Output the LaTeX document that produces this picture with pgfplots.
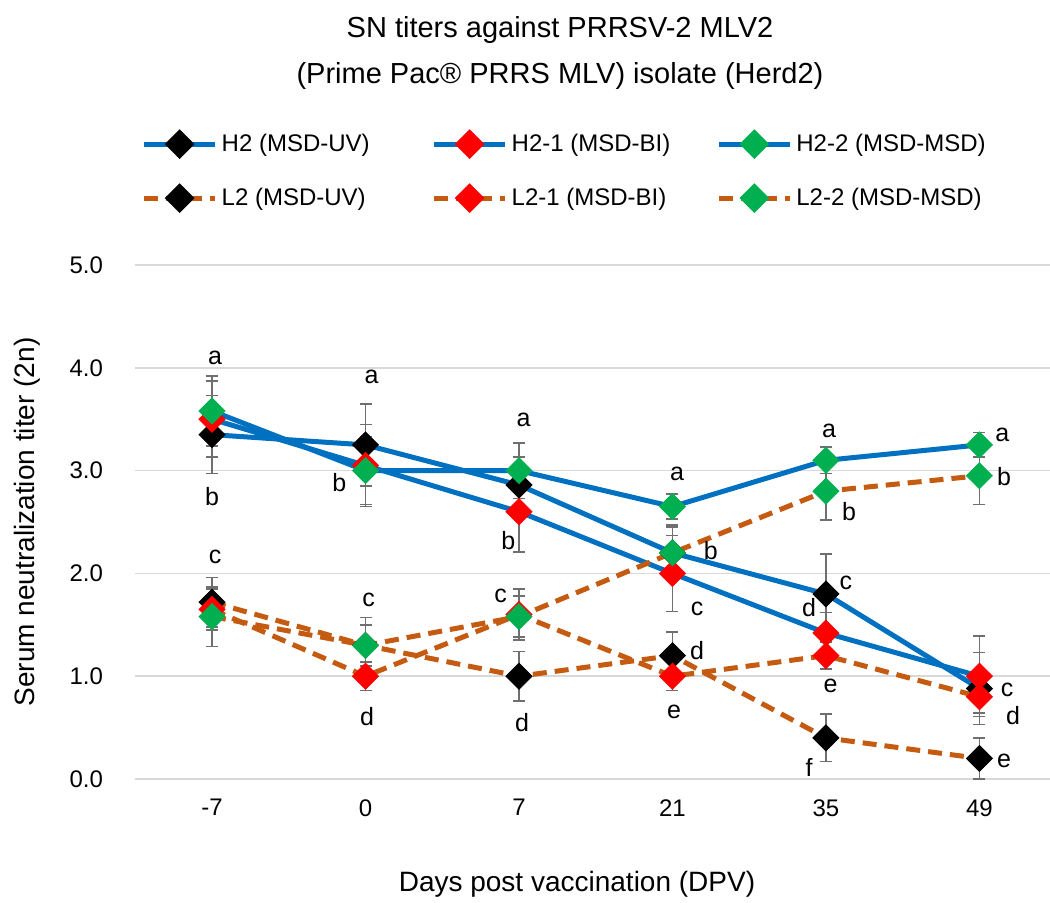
\documentclass[border=0pt]{standalone}
\usepackage{pgfplots}
\pgfplotsset{compat=1.18}
\usepackage{pgfplotstable}
\usepackage{fontspec}
\setmainfont{Liberation Sans}

\definecolor{hblue}{HTML}{0070C0}
\definecolor{lorange}{HTML}{C55A11}
\definecolor{mred}{HTML}{FF0000}
\definecolor{mgreen}{HTML}{00B050}
\definecolor{gridgray}{HTML}{D9D9D9}
\definecolor{errgray}{HTML}{6F6F6F}

% x = category index (-7,0,7,21,35,49 -> 0..5), y = titer, e = error
\pgfplotstableread{
x y e
0 3.35 0.38
1 3.25 0.40
2 2.86 0.27
3 2.20 0.27
4 1.80 0.39
5 0.88 0.35
}\htwo
\pgfplotstableread{
x y e
0 3.50 0.37
1 3.05 0.40
2 2.60 0.39
3 2.00 0.37
4 1.42 0.20
5 1.00 0.39
}\htwoone
\pgfplotstableread{
x y e
0 3.58 0.34
1 3.00 0.33
2 3.00 0.27
3 2.65 0.12
4 3.10 0.13
5 3.25 0.12
}\htwotwo
\pgfplotstableread{
x y e
0 1.72 0.24
1 1.30 0.27
2 1.00 0.24
3 1.20 0.23
4 0.40 0.23
5 0.20 0.20
}\ltwo
\pgfplotstableread{
x y e
0 1.65 0.20
1 1.00 0.14
2 1.60 0.25
3 1.00 0.14
4 1.20 0.13
5 0.80 0.16
}\ltwoone
\pgfplotstableread{
x y e
0 1.58 0.29
1 1.30 0.20
2 1.58 0.20
3 2.20 0.25
4 2.80 0.28
5 2.95 0.28
}\ltwotwo

\pgfplotsset{
  hline/.style={hblue, line width=2.5pt},
  lline/.style={lorange, line width=2.5pt, dash pattern=on 7pt off 4pt},
  mk/.style={only marks, mark=square*, mark size=4.6pt,
    mark options={rotate=45, solid, draw=#1, fill=#1},
    error bars/y dir=both, error bars/y explicit,
    error bars/error bar style={errgray, line width=0.8pt, solid},
    error bars/error mark options={rotate=90, errgray, mark size=3pt, line width=0.8pt}},
}

\begin{document}
\fontsize{12}{14}\selectfont
\begin{tikzpicture}
\useasboundingbox (-67.65pt,-61.5pt) rectangle (457.35pt,389.5pt);
\begin{axis}[
  at={(0,0)}, anchor=south west,
  scale only axis, width=457.35pt, height=257pt,
  xmin=-0.5, xmax=5.46, ymin=0, ymax=5,
  xtick={0,1,2,3,4,5}, xticklabels={-7,0,7,21,35,49},
  ytick={0,1,2,3,4,5},
  /pgf/number format/fixed, /pgf/number format/fixed zerofill,
  /pgf/number format/precision=1,
  /pgf/number format/assume math mode=true,
  ymajorgrids, grid style={gridgray, line width=0.75pt},
  axis line style={draw=none}, major tick length=0pt,
  yticklabel style={anchor=east, xshift=-12pt},
  xticklabel style={yshift=-6pt},
  tick label style={font=\fontsize{12}{14}\selectfont},
  clip=false,
  legend columns=3,
  legend style={draw=none, fill=none, font=\fontsize{12}{14}\selectfont,
    at={(axis description cs:0,1)}, anchor=south west, xshift=0pt, yshift=24pt,
    row sep=12.5pt,
    /tikz/column 2/.style={column sep=29pt},
    /tikz/column 4/.style={column sep=21pt}},
  legend cell align=left,
  legend image code/.code={
    \draw[#1, mark repeat=2, mark phase=2] plot coordinates {(0pt,0pt) (17.75pt,0pt) (35.5pt,0pt)};},
]
% lines
\addplot[hline, forget plot] table[x=x,y=y] {\htwo};
\addplot[hline, forget plot] table[x=x,y=y] {\htwoone};
\addplot[hline, forget plot] table[x=x,y=y] {\htwotwo};
\addplot[lline, forget plot] table[x=x,y=y] {\ltwo};
\addplot[lline, forget plot] table[x=x,y=y] {\ltwoone};
\addplot[lline, forget plot] table[x=x,y=y] {\ltwotwo};
% markers with error bars
\addplot[forget plot, mk=black] table[x=x,y=y,y error=e] {\htwo};
\addplot[forget plot, mk=mred] table[x=x,y=y,y error=e] {\htwoone};
\addplot[forget plot, mk=mgreen] table[x=x,y=y,y error=e] {\htwotwo};
\addplot[forget plot, mk=black] table[x=x,y=y,y error=e] {\ltwo};
\addplot[forget plot, mk=mred] table[x=x,y=y,y error=e] {\ltwoone};
\addplot[forget plot, mk=mgreen] table[x=x,y=y,y error=e] {\ltwotwo};
% legend
\addlegendimage{hline, mark=square*, mark size=4pt, mark options={rotate=45, solid, fill=black, draw=black}}
\addlegendentry{H2 (MSD-UV)}
\addlegendimage{hline, mark=square*, mark size=4pt, mark options={rotate=45, solid, fill=mred, draw=mred}}
\addlegendentry{H2-1 (MSD-BI)}
\addlegendimage{hline, mark=square*, mark size=4pt, mark options={rotate=45, solid, fill=mgreen, draw=mgreen}}
\addlegendentry{H2-2 (MSD-MSD)}
\addlegendimage{lline, mark=square*, mark size=4pt, mark options={rotate=45, solid, fill=black, draw=black}}
\addlegendentry{L2 (MSD-UV)}
\addlegendimage{lline, mark=square*, mark size=4pt, mark options={rotate=45, solid, fill=mred, draw=mred}}
\addlegendentry{L2-1 (MSD-BI)}
\addlegendimage{lline, mark=square*, mark size=4pt, mark options={rotate=45, solid, fill=mgreen, draw=mgreen}}
\addlegendentry{L2-2 (MSD-MSD)}
% significance letters
\begin{scope}[every node/.style={font=\fontsize{12.5}{14}\selectfont, inner sep=0pt}]
\node at (axis cs:0.02,4.10) {a};
\node at (axis cs:0.00,2.75) {b};
\node at (axis cs:0.02,2.16) {c};
\node at (axis cs:1.04,3.91) {a};
\node at (axis cs:0.83,2.88) {b};
\node at (axis cs:1.02,1.74) {c};
\node at (axis cs:1.01,0.61) {d};
\node at (axis cs:2.03,3.49) {a};
\node at (axis cs:1.93,2.32) {b};
\node at (axis cs:1.88,1.78) {c};
\node at (axis cs:2.02,0.55) {d};
\node at (axis cs:3.03,2.97) {a};
\node at (axis cs:3.25,2.22) {b};
\node at (axis cs:3.16,1.65) {c};
\node at (axis cs:3.16,1.25) {d};
\node at (axis cs:3.01,0.65) {e};
\node at (axis cs:4.02,3.39) {a};
\node at (axis cs:4.15,2.60) {b};
\node at (axis cs:4.13,1.91) {c};
\node at (axis cs:3.89,1.67) {d};
\node at (axis cs:4.03,0.91) {e};
\node at (axis cs:3.89,0.11) {f};
\node at (axis cs:5.15,3.35) {a};
\node at (axis cs:5.16,2.94) {b};
\node at (axis cs:5.18,0.87) {c};
\node at (axis cs:5.22,0.62) {d};
\node at (axis cs:5.16,0.18) {e};
\end{scope}
\end{axis}
\node[font=\fontsize{14.5}{17}\selectfont] at (212.35pt,374.5pt) {SN titers against PRRSV-2 MLV2};
\node[font=\fontsize{14.5}{17}\selectfont] at (212.35pt,351.5pt) {(Prime Pac® PRRS MLV) isolate (Herd2)};
\node[rotate=90, font=\fontsize{14}{17}\selectfont] at (-54.15pt,128.5pt) {Serum neutralization titer (2n)};
\node[font=\fontsize{14}{17}\selectfont] at (220.85pt,-52.5pt) {Days post vaccination (DPV)};
\end{tikzpicture}
\end{document}
